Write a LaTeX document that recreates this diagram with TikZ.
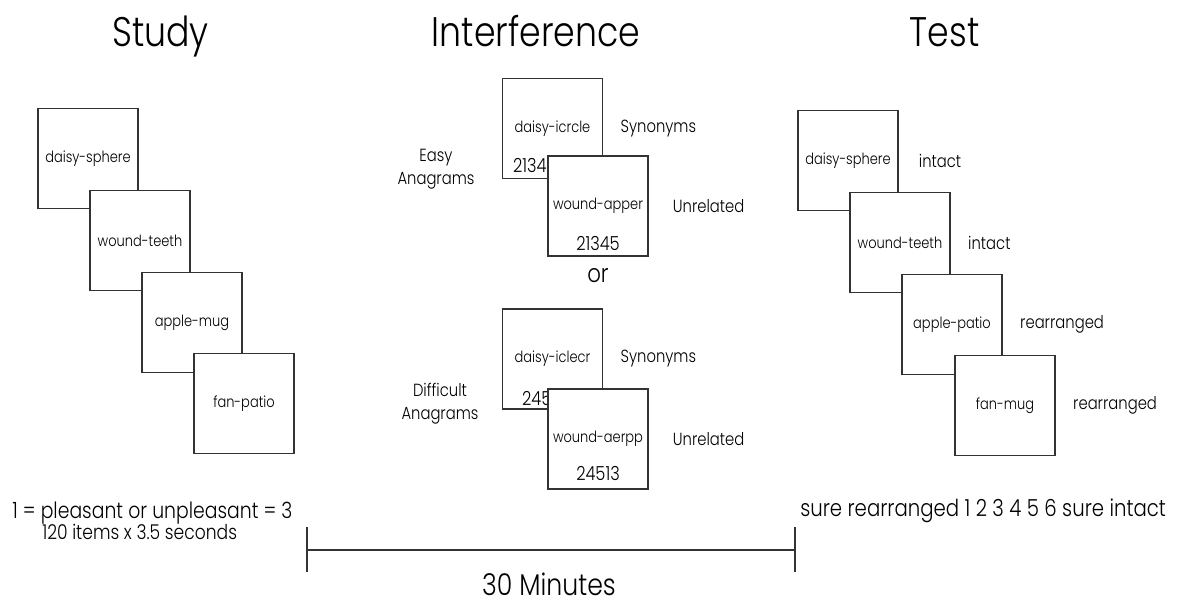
\documentclass[tikz,border=0pt]{standalone}
\usepackage{fontspec}
\setmainfont{Poppins}[UprightFont=* Light, FakeStretch=0.84]
\usetikzlibrary{positioning}

\begin{document}
\begin{tikzpicture}[
  x=0.75pt, y=-0.75pt,
  card/.style={draw=black!80, line width=0.9pt, fill=white,
    minimum width=75pt, minimum height=75pt, inner sep=0pt,
    font=\fontsize{11.6}{14}\selectfont},
  ttl/.style={anchor=base, inner sep=0pt, font=\fontsize{31}{36}\selectfont},
  lbl/.style={inner sep=0pt, font=\fontsize{13.2}{17}\selectfont},
  num/.style={inner sep=0pt, font=\fontsize{14.5}{16}\selectfont},
  tline/.style={draw=black!80, line width=1.1pt},
  node distance=13pt
]
\useasboundingbox (0,0) rectangle (1178,605);

% titles
\node[ttl] (study) at (160.5,47) {Study};
\node[ttl] (interf) at (536,47) {Interference};
\node[ttl] (test) at (944.5,47) {Test};

% study list
\node[card] (study1) at (88,158.5) {daisy-sphere};
\node[card] (study2) at ([shift={(52,82)}]study1) {wound-teeth};
\node[card] (study3) at ([shift={(52,82)}]study2) {apple-mug};
\node[card] (study4) at ([shift={(52,81)}]study3) {fan-patio};

% interference, easy
\node[card] (easyA) at (552.5,128.5) {daisy-icrcle};
\node[num, anchor=west] (easyAnum) at ([shift={(11,37)}]easyA.west) {21345};
\node[card] (easyB) at ([shift={(45.5,77.5)}]easyA) {wound-apper};
\node[num] (easyBnum) at ([shift={(0,37)}]easyB) {21345};
\node[lbl, anchor=west, right=of easyA.east] (easysyn) {Synonyms};
\node[lbl, anchor=west, right=18pt of easyB.east] (easyunr) {Unrelated};
\node[lbl, align=center] (easy) at (436,169) {Easy\\Anagrams};

\node[lbl, font=\fontsize{19}{20}\selectfont, below=14pt of easyB.south, anchor=center] (or) {or};

% interference, difficult
\node[card] (hardA) at (552.5,359) {daisy-iclecr};
\node[num, anchor=west] (hardAnum) at ([shift={(20,39)}]hardA.west) {24513};
\node[card] (hardB) at ([shift={(45.5,80)}]hardA) {wound-aerpp};
\node[num] (hardBnum) at ([shift={(0,34)}]hardB) {24513};
\node[lbl, anchor=west, right=of hardA.east] (hardsyn) {Synonyms};
\node[lbl, anchor=west, right=18pt of hardB.east] (hardunr) {Unrelated};
\node[lbl, align=center] (hard) at (440,404) {Difficult\\Anagrams};

% test list
\node[card] (test1) at (848,160.5) {daisy-sphere};
\node[card] (test2) at ([shift={(52,82)}]test1) {wound-teeth};
\node[card] (test3) at ([shift={(52,82)}]test2) {apple-patio};
\node[card] (test4) at ([shift={(53,81)}]test3) {fan-mug};
\node[lbl, anchor=west, right=15pt of test1.east] (t1lbl) {intact};
\node[lbl, anchor=west, right=of test2.east] (t2lbl) {intact};
\node[lbl, anchor=west, right=of test3.east] (t3lbl) {rearranged};
\node[lbl, anchor=west, right=of test4.east] (t4lbl) {rearranged};

% scales
\node[lbl, anchor=base west, font=\fontsize{16.8}{18}\selectfont] (rating) at (12,518)
  {1 = pleasant or unpleasant = 3};
\node[lbl, anchor=base west, font=\fontsize{15.3}{16}\selectfont] (timing) at (42,540)
  {120 items x 3.5 seconds};
\node[lbl, anchor=base west, font=\fontsize{17.6}{19}\selectfont] (conf) at (800,517)
  {sure rearranged 1 2 3 4 5 6 sure intact};

% delay
\coordinate (t0) at (307,550);
\coordinate (t1) at (795,550);
\draw[tline] (t0) -- (t1);
\draw[tline] ([yshift=17pt]t0) -- ([yshift=-16.5pt]t0);
\draw[tline] ([yshift=17pt]t1) -- ([yshift=-16.5pt]t1);
\node[lbl, anchor=base, text depth=0pt, font=\fontsize{22.5}{24}\selectfont] (delay) at (549,595) {30 Minutes};
\end{tikzpicture}
\end{document}
